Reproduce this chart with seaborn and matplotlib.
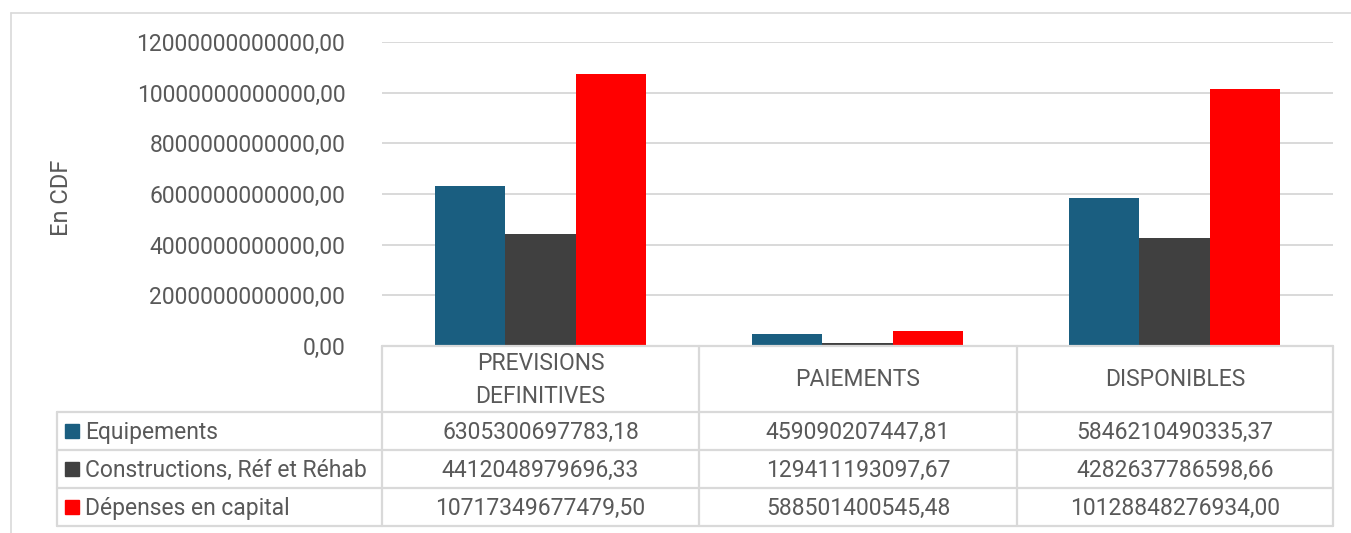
import matplotlib
matplotlib.use("Agg")
import matplotlib.pyplot as plt
from matplotlib.lines import Line2D
from matplotlib.patches import Rectangle
import seaborn as sns
import pandas as pd

# Budget execution data (CDF)
categories = ["PREVISIONS\nDEFINITIVES", "PAIEMENTS", "DISPONIBLES"]
series = ["Equipements", "Constructions, Réf et Réhab", "Dépenses en capital"]
equipements = [6305300697783.18, 459090207447.81, 5846210490335.37]
constructions = [4412048979696.33, 129411193097.67, 4282637786598.66]
depenses_capital = [10717349677479.50, 588501400545.48, 10128848276934.00]
y_ticks = [0, 2e12, 4e12, 6e12, 8e12, 10e12, 12e12]

colors = ["#1A5E80", "#404040", "#FF0000"]
text_color = "#595959"
grid_color = "#D9D9D9"
fs = 16.5

sns.set_theme(style="white")
plt.rcParams["font.family"] = ["Roboto", "DejaVu Sans"]

W, H = 1351, 533
fig = plt.figure(figsize=(W / 100, H / 100), dpi=100)


def fx(x):
    return x / W


def fy(y):
    return 1 - y / H


def fmt(v):
    return f"{v:.2f}".replace(".", ",")


df = pd.DataFrame({
    "categorie": categories * 3,
    "serie": [s for s in series for _ in categories],
    "valeur": equipements + constructions + depenses_capital,
})

# Plot area in pixel coordinates
left, right, top, bottom = 382, 1333, 42, 346
ax = fig.add_axes([fx(left), fy(bottom), (right - left) / W, (bottom - top) / H])
sns.barplot(data=df, x="categorie", y="valeur", hue="serie", order=categories,
            hue_order=series, palette=colors, width=0.665, saturation=1,
            ax=ax, legend=False, linewidth=0)
ax.set_xlim(-0.5, 2.5)
ax.set_ylim(0, 12e12)
ax.set_yticks(y_ticks)
ax.set_yticklabels([fmt(v) for v in y_ticks], color=text_color, fontsize=fs)
ax.tick_params(axis="y", length=0, pad=26.5)
ax.set_xticks([])
ax.set_xlabel("")
ax.set_ylabel("")
ax.yaxis.grid(True, color=grid_color, linewidth=1.4)
ax.set_axisbelow(True)
for s in ax.spines.values():
    s.set_visible(False)

fig.text(fx(61), fy(198), "En CDF", rotation=90, ha="center", va="center",
         fontsize=fs + 0.5, color=text_color)


def hline(x0, x1, y, lw=1.6):
    fig.add_artist(Line2D([fx(x0), fx(x1)], [fy(y), fy(y)], color=grid_color, lw=lw))


def vline(x, y0, y1, lw=1.6):
    fig.add_artist(Line2D([fx(x), fx(x)], [fy(y0), fy(y1)], color=grid_color, lw=lw))


# Outer chart border
hline(11, 1351, 13, lw=1.2)
vline(11, 13, 533, lw=1.2)

# Data table grid
col_x = [382, 699, 1017, 1333]
row_y = [346, 412, 450, 488, 526]
hline(col_x[0], col_x[-1], row_y[0])
for y in row_y[1:]:
    hline(57, col_x[-1], y)
for x in col_x:
    vline(x, row_y[0], row_y[-1])
vline(57, row_y[1], row_y[-1])

# Header cells
for i, cat in enumerate(categories):
    cx = (col_x[i] + col_x[i + 1]) / 2
    fig.text(fx(cx), fy((row_y[0] + row_y[1]) / 2 + 1), cat, ha="center",
             va="center", fontsize=fs, color=text_color, linespacing=1.55)

# Series rows with legend keys and values
rows = [equipements, constructions, depenses_capital]
for r, (name, vals, col) in enumerate(zip(series, rows, colors)):
    cy = (row_y[r + 1] + row_y[r + 2]) / 2
    fig.add_artist(Rectangle((fx(65), fy(cy + 7)), 14 / W, 14 / H, color=col,
                             transform=fig.transFigure))
    fig.text(fx(85), fy(cy + 1), name, ha="left", va="center", fontsize=fs,
             color=text_color)
    for i, v in enumerate(vals):
        cx = (col_x[i] + col_x[i + 1]) / 2
        fig.text(fx(cx), fy(cy + 1), fmt(v), ha="center", va="center",
                 fontsize=fs, color=text_color)

fig.savefig("out.png", dpi=100, facecolor="white")
